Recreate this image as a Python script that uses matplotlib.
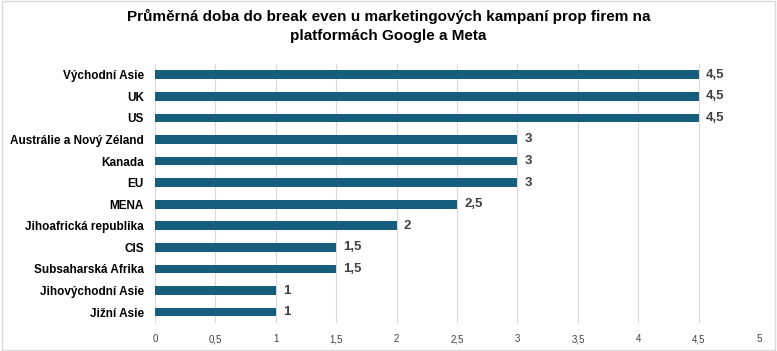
import matplotlib
matplotlib.use("Agg")
import matplotlib.pyplot as plt
from matplotlib.ticker import FuncFormatter
from matplotlib import font_manager

# data, top to bottom as in the chart
regions = ["Východní Asie", "UK", "US", "Austrálie a Nový Zéland", "Kanada", "EU",
           "MENA", "Jihoafrická republika", "CIS", "Subsaharská Afrika",
           "Jihovýchodní Asie", "Jižní Asie"]
months = [4.5, 4.5, 4.5, 3, 3, 3, 2.5, 2, 1.5, 1.5, 1, 1]
x_ticks = [0, 0.5, 1, 1.5, 2, 2.5, 3, 3.5, 4, 4.5, 5]

names = {f.name for f in font_manager.fontManager.ttflist}
font = "Liberation Sans Narrow" if "Liberation Sans Narrow" in names else "Liberation Sans"
plt.rcParams['font.family'] = [font, 'DejaVu Sans']

def cz(v, _=None):
    return f"{v:g}".replace(".", ",")

fig = plt.figure(figsize=(7.77, 3.51), dpi=100)
ax = fig.add_axes([0.1995, 0.08, 0.7775, 0.738])

pos = list(range(len(regions)))
ax.barh(pos, months, height=0.4, color="#175E7E", zorder=3)
for p, v in zip(pos, months):
    ax.text(v + 0.06, p, cz(v), va="center", ha="left", fontsize=9.5,
            fontweight="bold", color="#404040")

ax.set_ylim(len(regions) - 0.5, -0.5)
ax.set_yticks(pos)
ax.set_yticklabels(regions, fontsize=8.5, fontweight="bold")
ax.set_xlim(0, 5)
ax.set_xticks(x_ticks)
ax.xaxis.set_major_formatter(FuncFormatter(cz))
ax.tick_params(axis="x", labelsize=7, length=0, pad=8, colors="#404040")
ax.tick_params(axis="y", length=0, pad=8)
ax.grid(axis="x", color="#D9D9D9", linewidth=0.8, zorder=0)
for s in ax.spines.values():
    s.set_visible(False)

fig.text(0.5, 0.975, "Průměrná doba do break even u marketingových kampaní prop firem na\nplatformách Google a Meta",
         ha="center", va="top", fontsize=11, fontweight="bold", linespacing=1.5)

fig.patches.append(plt.Rectangle((0.002, 0.003), 0.996, 0.994, transform=fig.transFigure,
                                 fill=False, edgecolor="#D9D9D9", linewidth=1))

fig.savefig("out.png", dpi=100)
